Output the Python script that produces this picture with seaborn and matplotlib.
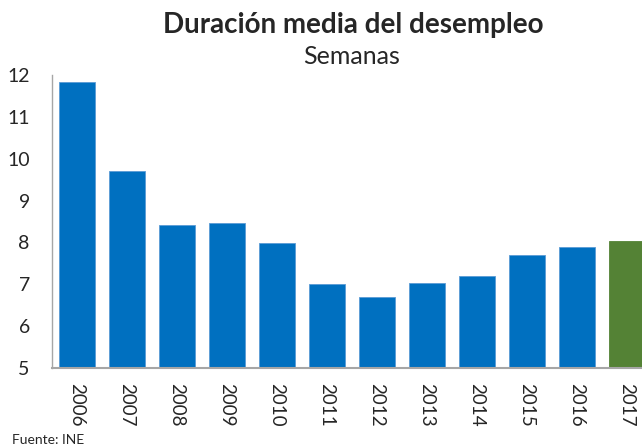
import matplotlib
matplotlib.use("Agg")
import matplotlib.pyplot as plt
import seaborn as sns
import pandas as pd

# Datos: duración media del desempleo (semanas)
anios = ["2006", "2007", "2008", "2009", "2010", "2011",
         "2012", "2013", "2014", "2015", "2016", "2017"]
semanas = [11.83, 9.70, 8.41, 8.46, 7.99, 7.00,
           6.69, 7.03, 7.20, 7.70, 7.89, 8.04]
y_ticks = [5, 6, 7, 8, 9, 10, 11, 12]

azul = "#0070C0"
verde = "#548235"
colores = [azul] * (len(anios) - 1) + [verde]

df = pd.DataFrame({"anio": anios, "semanas": semanas})

sns.set_theme(style="white")
plt.rcParams["font.family"] = ["Lato", "DejaVu Sans"]

fig = plt.figure(figsize=(6.42, 4.46), dpi=100)
ax = fig.add_axes([52 / 642, 1 - 368 / 446, 600 / 642, (368 - 75) / 446])

sns.barplot(data=df, x="anio", y="semanas", hue="anio", palette=colores,
            legend=False, width=0.71, saturation=1, ax=ax,
            edgecolor="#5B9BD5", linewidth=0.6)
# el borde del último en verde
ax.patches[-1].set_edgecolor(verde)

ax.set_ylim(5, 12)
ax.set_xlim(-0.5, len(anios) - 0.5)
ax.set_yticks(y_ticks)
ax.set_xlabel("")
ax.set_ylabel("")
ax.tick_params(axis="y", length=0, pad=16, labelsize=14)
ax.tick_params(axis="x", length=0, pad=11, labelsize=13.5, labelrotation=-90)
for lbl in ax.get_xticklabels():
    lbl.set_verticalalignment("top")

for s in ["top", "right"]:
    ax.spines[s].set_visible(False)
ax.spines["left"].set_color("#A6A6A6")
ax.spines["left"].set_linewidth(1.0)
ax.spines["bottom"].set_color("#A6A6A6")
ax.spines["bottom"].set_linewidth(1.5)

fig.text(353 / 642, 1 - 25 / 446, "Duración media del desempleo",
         ha="center", va="center", fontsize=20, fontweight="bold")
fig.text(352 / 642, 1 - 57 / 446, "Semanas", ha="center", va="center",
         fontsize=18)
fig.text(12 / 642, 1 - 440 / 446, "Fuente: INE", ha="left", va="center",
         fontsize=10)

plt.savefig("out.png", dpi=100)
